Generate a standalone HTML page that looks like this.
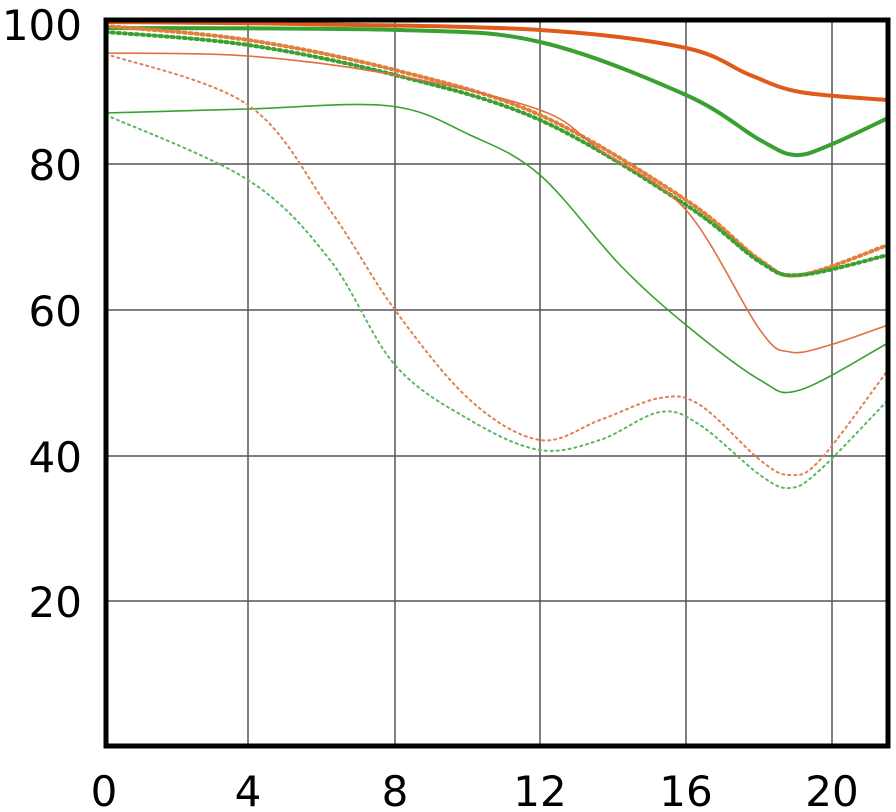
<!DOCTYPE html>
<html><head><meta charset="utf-8"><style>
html,body{margin:0;padding:0;background:#fff;width:896px;height:812px;overflow:hidden}
svg{display:block}
text{font-family:"DejaVu Sans","Liberation Sans",sans-serif;font-size:42px;fill:#000}
</style></head><body>
<svg id="s" width="896" height="812" viewBox="0 0 896 812">
<g stroke="#555" stroke-width="1.5">
<line x1="248" y1="20" x2="248" y2="746"/><line x1="395" y1="20" x2="395" y2="746"/>
<line x1="540" y1="20" x2="540" y2="746"/><line x1="686" y1="20" x2="686" y2="746"/>
<line x1="832" y1="20" x2="832" y2="746"/>
<line x1="106" y1="164" x2="888" y2="164"/><line x1="106" y1="310" x2="888" y2="310"/>
<line x1="106" y1="456" x2="888" y2="456"/><line x1="106" y1="601" x2="888" y2="601"/>
</g>
<g id="curves" fill="none"></g>
<path d="M106 20 H888 V746 H106 Z" fill="none" stroke="#000" stroke-width="5"/>
<g text-anchor="end">
<text x="82" y="40">100</text><text x="82" y="180">80</text><text x="82" y="326">60</text>
<text x="82" y="472">40</text><text x="82" y="617">20</text>
</g>
<g text-anchor="middle">
<text x="104" y="806">0</text><text x="248" y="806">4</text><text x="395" y="806">8</text>
<text x="540" y="806">12</text><text x="686" y="806">16</text><text x="832" y="806">20</text>
</g>
</svg>
<script>
var C=[
["#e05a1a",4,"",[[106,22],[300,24],[540,30],[686,48],[750,75],[800,92],[888,100]]],
["#3aa032",4,"",[[106,28],[400,30],[540,42],[686,95],[760,140],[795,155],[830,145],[888,118]]],
["#e0803a",4,"2 4",[[106,26],[248,40],[395,70],[540,115],[686,200],[760,260],[800,275],[888,245]]],
["#3aa032",4,"2 4",[[106,32],[248,45],[395,75],[540,120],[686,205],[760,262],[800,275],[888,255]]],
["#e07040",1.6,"",[[106,53],[248,56],[395,75],[540,110],[600,150],[686,210],[760,330],[790,352],[830,345],[888,325]]],
["#3aa032",1.6,"",[[106,113],[248,109],[390,106],[470,135],[540,175],[620,265],[686,325],[760,380],[800,390],[888,343]]],
["#e08050",2,"2 4",[[106,54],[248,105],[330,210],[395,310],[470,400],[540,440],[600,420],[660,398],[700,405],[760,460],[790,475],[820,460],[888,370]]],
["#5cb860",2,"2 4",[[106,115],[248,180],[330,260],[395,365],[470,420],[540,450],[600,440],[660,412],[700,425],[760,475],[790,488],[820,470],[888,400]]]
];
var g=document.getElementById("curves");
C.forEach(function(c){var p=c[3],d="M"+p[0][0]+" "+p[0][1];
for(var i=0;i<p.length-1;i++){var a=p[i-1]||p[i],b=p[i],e=p[i+1],f=p[i+2]||e;
d+=" C"+(b[0]+(e[0]-a[0])/6)+" "+(b[1]+(e[1]-a[1])/6)+" "+(e[0]-(f[0]-b[0])/6)+" "+(e[1]-(f[1]-b[1])/6)+" "+e[0]+" "+e[1];}
var el=document.createElementNS("http://www.w3.org/2000/svg","path");
el.setAttribute("d",d);el.setAttribute("stroke",c[0]);el.setAttribute("stroke-width",c[1]);
if(c[2]){el.setAttribute("stroke-dasharray",c[2]);el.setAttribute("stroke-linecap","round");}
g.appendChild(el);});
</script>
</body></html>
